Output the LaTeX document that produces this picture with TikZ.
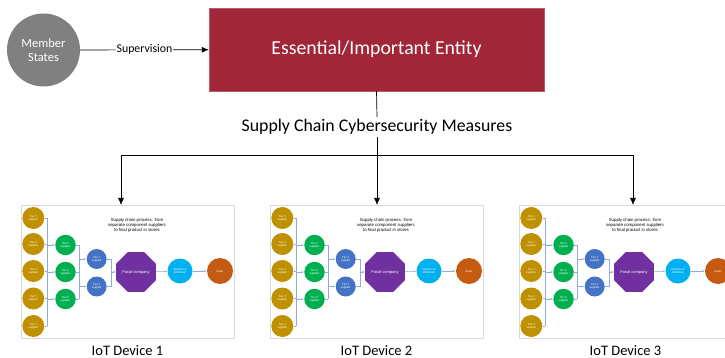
\documentclass[tikz,border=0pt]{standalone}
\usepackage{fontspec}
\setmainfont{Carlito}
\newfontfamily\chainfont{Liberation Sans}
\usetikzlibrary{shapes.geometric,arrows.meta}

\definecolor{stategray}{RGB}{128,128,128}
\definecolor{entityred}{RGB}{160,38,56}
\definecolor{tierthree}{RGB}{191,144,0}
\definecolor{tiertwo}{RGB}{0,176,80}
\definecolor{tierone}{RGB}{68,114,196}
\definecolor{focalpurple}{RGB}{112,48,160}
\definecolor{importcyan}{RGB}{0,176,240}
\definecolor{sellerorange}{RGB}{197,90,17}
\definecolor{linkblue}{RGB}{143,170,220}
\definecolor{framegray}{RGB}{217,217,217}

\tikzset{
  member/.style={circle, fill=stategray, text=white, minimum size=73pt,
    inner sep=0pt, align=center, font=\fontsize{12.5}{14}\selectfont},
  entity/.style={rectangle, fill=entityred, draw=entityred!75!white,
    text=white, minimum width=335pt, minimum height=83pt,
    font=\fontsize{19.8}{22}\selectfont},
  supplier/.style={circle, text=white, align=center, inner sep=0pt,
    font=\chainfont\fontsize{2.8}{3.2}\selectfont},
  panel/.style={draw=framegray, line width=0.6pt},
  note/.style={align=center, font=\chainfont\fontsize{4.3}{5}\selectfont},
  bus/.style={draw=linkblue, line width=0.5pt},
  link/.style={bus, -{Latex[length=2.5pt,width=2pt]}},
}

\begin{document}
\begin{tikzpicture}[x=1pt, y=-1pt, >={Latex[length=7pt,width=6pt]}]
\useasboundingbox (0,0) rectangle (725,358);

% supervision on top
\node[member] (states) at (43.5,50) {Member\\States};
\node[entity] (entity) at (376.5,49.5) {Essential/Important Entity};
\draw[->, line width=0.7pt] (states) -- node[fill=white, inner sep=1pt,
  font=\fontsize{11.8}{13}\selectfont] {Supervision} (entity);

\node[font=\fontsize{17.8}{20}\selectfont, inner sep=2pt] (measures) at (377,127)
  {Supply Chain Cybersecurity Measures};
\draw[line width=0.7pt] (entity.south) -- (measures.north);

\coordinate (split) at (377,155);
\coordinate (in1) at (121,205);
\coordinate (in2) at (377,205);
\coordinate (in3) at (633,205);
\draw[line width=0.7pt] (measures.south) -- (split);
\draw[line width=0.7pt] (in1 |- split) -- (in3 |- split);
\foreach \k in {1,2,3}
  \draw[->, line width=0.7pt] (in\k |- split) -- (in\k);

% one supply chain panel per device
\foreach \p/\dx in {1/21, 2/270, 3/519} {
\begin{scope}[shift={(\dx,205)}]
  \draw[panel] (0,0) rectangle (213,133);
  \node[inner sep=1pt] (dev\p) at (106.5,145.5) {\fontsize{14.5}{16}\selectfont IoT Device \p};
  \node[note] (note\p) at (116,20)
    {Supply chain process: from\\separate component suppliers\\to final product in stores};

  \foreach \i/\y in {1/13,2/39,3/66,4/93.5,5/121}
    \node[supplier, fill=tierthree, minimum size=22pt] (s3\i p\p) at (12.3,\y) {Tier 3\\supplier};
  \foreach \i/\y in {1/40,2/67,3/94}
    \node[supplier, fill=tiertwo, minimum size=20.5pt] (s2\i p\p) at (44.5,\y) {Tier 2\\supplier};
  \foreach \i/\y in {1/54,2/81.5}
    \node[supplier, fill=tierone, minimum size=20pt] (s1\i p\p) at (75.7,\y) {Tier 1\\supplier};
  \node[regular polygon, regular polygon sides=8, fill=focalpurple, text=white,
    minimum size=43pt, inner sep=0pt, font=\chainfont\fontsize{4}{5}\selectfont]
    (focal\p) at (115,67) {Focal company};
  \node[supplier, fill=importcyan, minimum size=25pt] (imp\p) at (159,66) {Importer \&\\distributor};
  \node[supplier, fill=sellerorange, minimum size=26pt] (sell\p) at (199,66) {Seller};

  \coordinate (bus3p\p) at (26.3,0);
  \coordinate (bus2p\p) at (58,0);
  \coordinate (bus1p\p) at (90,0);

  % tier 3 into tier 2
  \foreach \i in {1,...,5}
    \draw[bus] (s3\i p\p.east) -- (s3\i p\p.east -| bus3p\p);
  \draw[bus] (bus3p\p |- s31p\p) -- (bus3p\p |- s35p\p);
  \foreach \i in {1,2,3}
    \draw[link] (s2\i p\p.west -| bus3p\p) -- (s2\i p\p.west);

  % tier 2 into tier 1
  \foreach \i in {1,2,3}
    \draw[bus] (s2\i p\p.east) -- (s2\i p\p.east -| bus2p\p);
  \draw[bus] (bus2p\p |- s21p\p) -- (bus2p\p |- s23p\p);
  \foreach \i in {1,2}
    \draw[link] (s1\i p\p.west -| bus2p\p) -- (s1\i p\p.west);

  % tier 1 into the focal company and on to the shop
  \foreach \i in {1,2}
    \draw[bus] (s1\i p\p.east) -- (s1\i p\p.east -| bus1p\p);
  \draw[bus] (bus1p\p |- s11p\p) -- (bus1p\p |- s12p\p);
  \draw[link] (focal\p.west -| bus1p\p) -- (focal\p.west);
  \draw[link] (focal\p) -- (imp\p);
  \draw[link] (imp\p) -- (sell\p);
\end{scope}
}
\end{tikzpicture}
\end{document}
